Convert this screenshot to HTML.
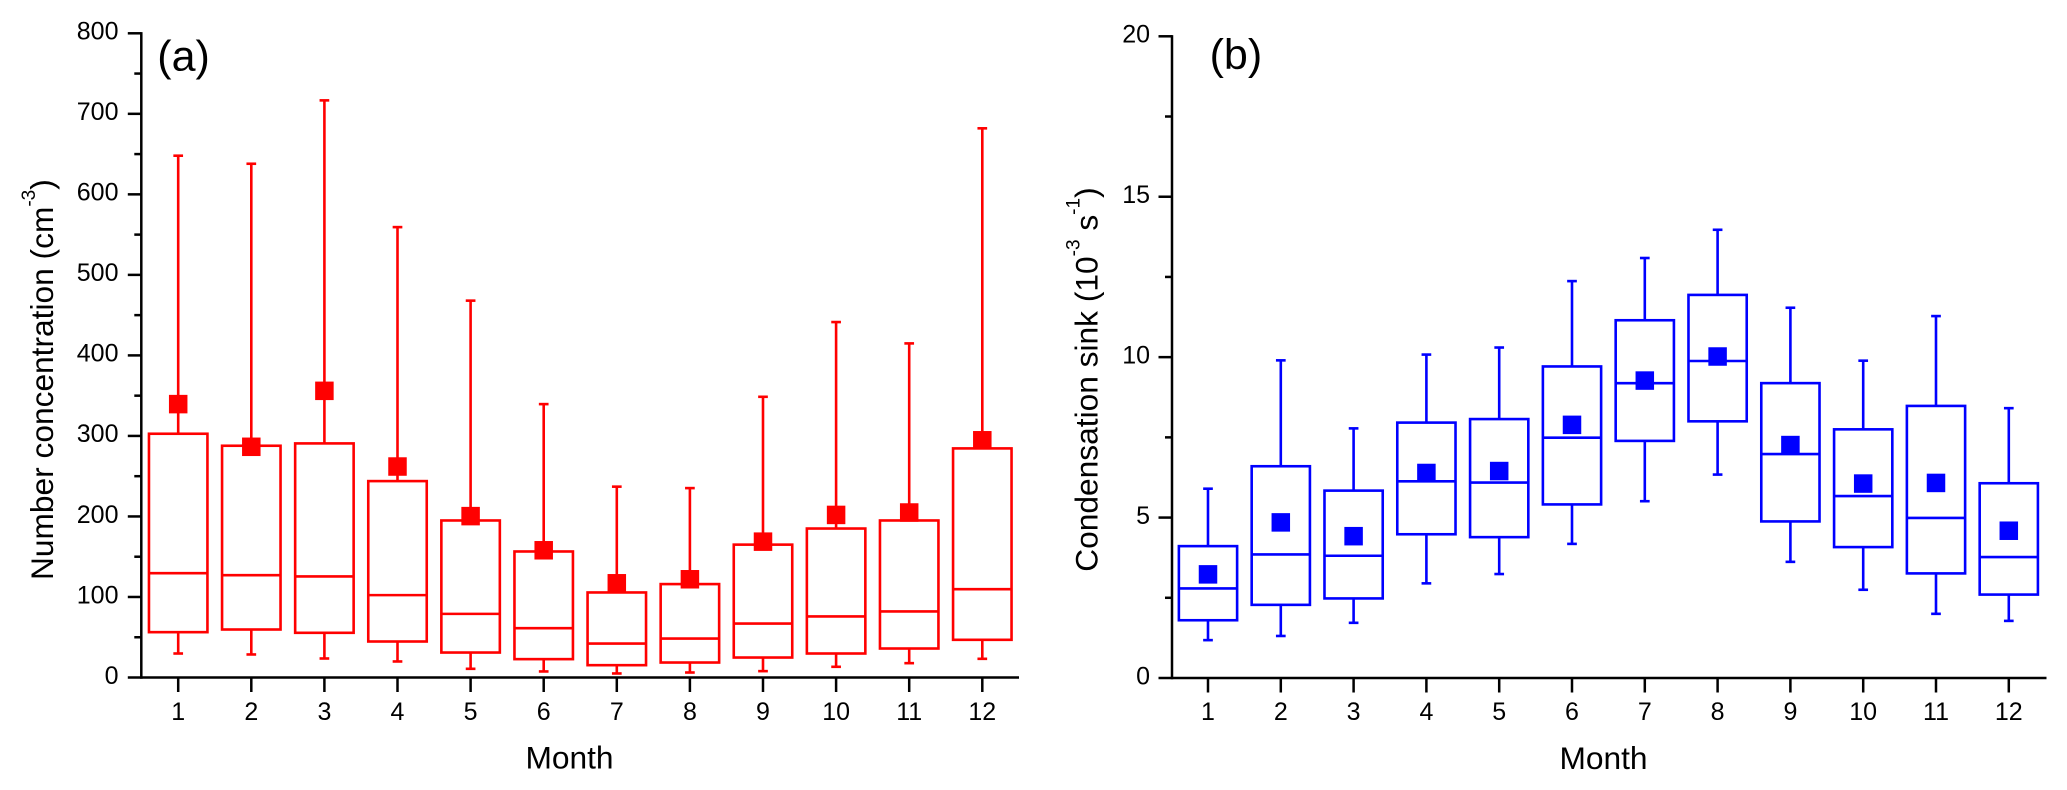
<!DOCTYPE html>
<html lang="en">
<head>
<meta charset="utf-8">
<title>Monthly number concentration and condensation sink</title>
<style>
html,body{margin:0;padding:0;background:#fff;}
svg{display:block;font-family:"Liberation Sans",Arial,sans-serif;}
text{fill:#000;}
</style>
</head>
<body>
<svg id="chart" xmlns="http://www.w3.org/2000/svg" width="2067" height="790" viewBox="0 0 2067 790">
  <rect x="0" y="0" width="2067" height="790" fill="#fff"/>
  <g id="panel-a"></g>
  <g id="panel-b"></g>
  <text x="157.3" y="70.5" font-size="43">(a)</text>
  <text x="1209.6" y="69" font-size="43">(b)</text>
  <text x="569.5" y="768.3" font-size="31.7" text-anchor="middle">Month</text>
  <text x="1603.5" y="769" font-size="31.7" text-anchor="middle">Month</text>
  <text transform="translate(53,580) rotate(-90)" font-size="31.7">Number concentration (cm<tspan font-size="19" dy="-17.8">-3</tspan><tspan dy="17.8">)</tspan></text>
  <text transform="translate(1097.5,571.7) rotate(-90)" font-size="31.7">Condensation sink (10<tspan font-size="19" dy="-17.8">-3</tspan><tspan dy="17.8" xml:space="preserve"> s</tspan><tspan font-size="19" dy="-17.8">-1</tspan><tspan dy="17.8">)</tspan></text>
</svg>
<script>
const months = [1,2,3,4,5,6,7,8,9,10,11,12];

const concMax = [648,638,716.7,559.3,468,339.5,237,235.2,348.6,441.4,414.9,682];
const concQ3 = [302.7,287.8,290.7,243.9,195,156.5,105.6,116,165,185,195,284.5];
const concMedian = [129.6,127,125.5,102.3,79,61.3,42.2,48.4,67,75.8,82,109.7];
const concQ1 = [56.3,59.6,55.5,44.7,31,22.8,15.3,18.6,24.8,29.8,36,46.8];
const concMin = [29.8,28.6,23.6,19.9,10.8,7.5,5,6.2,7.9,13.3,17.8,23.2];
const concMean = [339.5,286.5,356,262,200.4,158,117,122,168.7,201.9,204.9,294.6];
const concMajorTicks = [0,100,200,300,400,500,600,700,800];
const concMinorTicks = [50,150,250,350,450,550,650,750];

const sinkMax = [5.9,9.9,7.78,10.08,10.3,12.37,13.09,13.97,11.54,9.89,11.28,8.41];
const sinkQ3 = [4.11,6.6,5.84,7.96,8.07,9.71,11.15,11.94,9.19,7.75,8.48,6.07];
const sinkMedian = [2.79,3.85,3.81,6.13,6.09,7.49,9.19,9.88,6.98,5.67,4.99,3.77];
const sinkQ1 = [1.8,2.28,2.48,4.48,4.39,5.41,7.39,8,4.88,4.08,3.26,2.6];
const sinkMin = [1.18,1.31,1.72,2.95,3.24,4.18,5.51,6.34,3.62,2.75,2,1.78];
const sinkMean = [3.23,4.85,4.42,6.39,6.45,7.89,9.27,10.02,7.26,6.06,6.08,4.59];
const sinkMajorTicks = [0,5,10,15,20];
const sinkMinorTicks = [2.5,7.5,12.5,17.5];

const SVGNS = 'http://www.w3.org/2000/svg';

function svgEl(parent, tag, attrs) {
  const el = document.createElementNS(SVGNS, tag);
  for (const k in attrs) el.setAttribute(k, attrs[k]);
  parent.appendChild(el);
  return el;
}

function drawPanel(cfg) {
  const root = document.getElementById(cfg.id);
  const px = cfg.left, pyBottom = cfg.bottom, pyTop = cfg.top;
  const xScale = m => cfg.x1 + (m - 1) * cfg.step;
  const yScale = v => pyBottom - (v - cfg.yMin) / (cfg.yMax - cfg.yMin) * (pyBottom - pyTop);
  const color = cfg.color;
  const lw = 2.6;
  const boxW = cfg.step * 0.8;
  const capW = 9.7;
  const markerS = 18.5;

  months.forEach(function (m, i) {
    const cx = xScale(m);
    const group = svgEl(root, 'g', {});
    
    
    const stroke = {stroke: color, 'stroke-width': lw, fill: 'none'};

    const upper = svgEl(group, 'line', Object.assign({x1: cx, x2: cx, y1: yScale(cfg.max[i]), y2: yScale(cfg.q3[i])}, stroke));
    
    
    const lower = svgEl(group, 'line', Object.assign({x1: cx, x2: cx, y1: yScale(cfg.q1[i]), y2: yScale(cfg.min[i])}, stroke));
    
    
    const capHi = svgEl(group, 'line', Object.assign({x1: cx - capW / 2, x2: cx + capW / 2, y1: yScale(cfg.max[i]), y2: yScale(cfg.max[i])}, stroke));
    
    
    const capLo = svgEl(group, 'line', Object.assign({x1: cx - capW / 2, x2: cx + capW / 2, y1: yScale(cfg.min[i]), y2: yScale(cfg.min[i])}, stroke));
    
    
    const box = svgEl(group, 'rect', Object.assign({x: cx - boxW / 2, y: yScale(cfg.q3[i]), width: boxW, height: yScale(cfg.q1[i]) - yScale(cfg.q3[i])}, stroke));
    
    
    const med = svgEl(group, 'line', Object.assign({x1: cx - boxW / 2, x2: cx + boxW / 2, y1: yScale(cfg.median[i]), y2: yScale(cfg.median[i])}, stroke));
    
    
    const mean = svgEl(group, 'rect', {x: cx - markerS / 2, y: yScale(cfg.mean[i]) - markerS / 2, width: markerS, height: markerS, fill: color});
    
    
  });

  const axis = {stroke: '#000', 'stroke-width': 2.5, fill: 'none'};
  const yAxis = svgEl(root, 'line', Object.assign({x1: px, x2: px, y1: pyTop - 1.2, y2: pyBottom + 1.2}, axis));
  
  
  const xAxis = svgEl(root, 'line', Object.assign({x1: px, x2: cfg.right, y1: pyBottom, y2: pyBottom}, axis));
  
  

  cfg.majors.forEach(function (v) {
    const y = yScale(v);
    const tick = svgEl(root, 'line', Object.assign({x1: px - 13.5, x2: px, y1: y, y2: y}, axis));
    
    
    const label = svgEl(root, 'text', {x: cfg.labelRight, y: y + 6.3, 'font-size': 25, 'text-anchor': 'end'});
    label.textContent = String(v);
    
    
  });
  cfg.minors.forEach(function (v) {
    const y = yScale(v);
    const tick = svgEl(root, 'line', Object.assign({x1: px - 7, x2: px, y1: y, y2: y}, axis));
    
    
  });
  months.forEach(function (m) {
    const x = xScale(m);
    const tick = svgEl(root, 'line', Object.assign({x1: x, x2: x, y1: pyBottom, y2: pyBottom + 14.5}, axis));
    
    
    const label = svgEl(root, 'text', {x: x, y: 720, 'font-size': 25, 'text-anchor': 'middle'});
    label.textContent = String(m);
    
    
  });
}

drawPanel({
  id: 'panel-a', color: '#ff0000',
  left: 141.3, right: 1019, top: 33.3, bottom: 677.5,
  x1: 178.2, step: 73.1, yMin: 0, yMax: 800, labelRight: 118.5,
  max: concMax, q3: concQ3, median: concMedian, q1: concQ1, min: concMin, mean: concMean,
  majors: concMajorTicks, minors: concMinorTicks
});
drawPanel({
  id: 'panel-b', color: '#0000ff',
  left: 1172, right: 2046.5, top: 36.3, bottom: 678,
  x1: 1208, step: 72.8, yMin: 0, yMax: 20, labelRight: 1150,
  max: sinkMax, q3: sinkQ3, median: sinkMedian, q1: sinkQ1, min: sinkMin, mean: sinkMean,
  majors: sinkMajorTicks, minors: sinkMinorTicks
});
</script>
</body>
</html>
